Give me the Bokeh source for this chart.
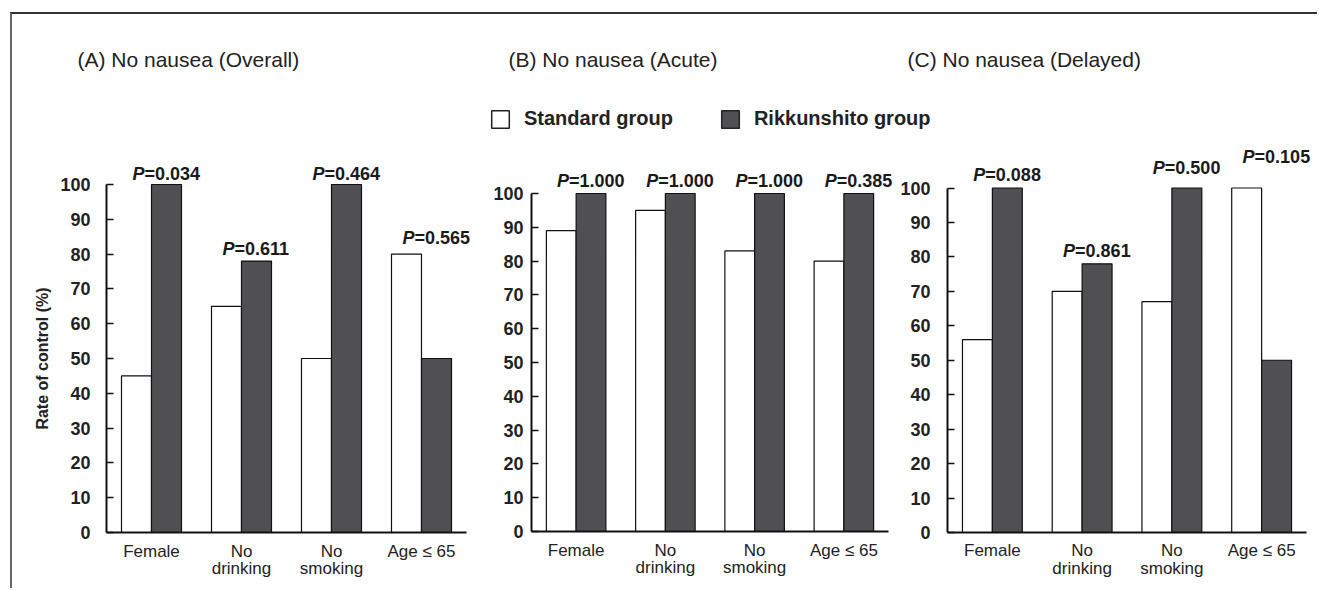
from bokeh.plotting import figure
from bokeh.models import (Range1d, FixedTicker, Label, Legend, LegendItem,
                          ColumnDataSource)
from bokeh.transform import dodge
from bokeh.layouts import row, column
from bokeh.embed import file_html
from bokeh.resources import INLINE
from bokeh.core.properties import value

# ---------------- data ----------------
categories = ["Female", "No\ndrinking", "No\nsmoking", "Age \u2264 65"]
titles = ["(A) No nausea (Overall)", "(B) No nausea (Acute)", "(C) No nausea (Delayed)"]
series_names = ["Standard group", "Rikkunshito group"]

standard_A = [45, 65, 50, 80]
rikkunshito_A = [100, 78, 100, 50]
pvalues_A = ["0.034", "0.611", "0.464", "0.565"]

standard_B = [89, 95, 83, 80]
rikkunshito_B = [100, 100, 100, 100]
pvalues_B = ["1.000", "1.000", "1.000", "0.385"]

standard_C = [56, 70, 67, 100]
rikkunshito_C = [100, 78, 100, 50]
pvalues_C = ["0.088", "0.861", "0.500", "0.105"]

y_ticks = [0, 10, 20, 30, 40, 50, 60, 70, 80, 90, 100]
y_axis_label = "Rate of control (%)"

# ---------------- style / layout ----------------
FONT = "Liberation Sans"
DARK = "#505052"
TXT = "#222222"
HEADER_H = 126
CHART_H = 448
xpos = [i + 0.5 for i in range(len(categories))]

panels = [
    dict(std=standard_A, rik=rikkunshito_A, pv=pvalues_A,
         width=463, xs=-1.0444, unit=90.0, ys=-16.09, ye=112.64, standoff=16,
         lift=[10, 12, 10, 16], ylabel=True),
    dict(std=standard_B, rik=rikkunshito_B, pv=pvalues_B,
         width=420, xs=-0.6275, unit=89.25, ys=-16.86, ye=115.68, standoff=8,
         lift=[13, 13, 13, 13], ylabel=False),
    dict(std=standard_C, rik=rikkunshito_C, pv=pvalues_C,
         width=422, xs=-0.5794, unit=89.75, ys=-16.26, ye=113.79, standoff=17,
         lift=[13, 13, 20, 31], ylabel=False),
]
TOTAL_W = sum(pd_["width"] for pd_ in panels)

# ---------------- header: titles + legend ----------------
hdr = figure(x_range=Range1d(0, TOTAL_W), y_range=Range1d(0, HEADER_H),
             width=TOTAL_W, height=HEADER_H, title=None, output_backend="svg",
             toolbar_location=None, min_border=0)
hdr.axis.visible = False
hdr.xgrid.grid_line_color = None
hdr.ygrid.grid_line_color = None
hdr.outline_line_color = None

title_pos = [(65, 81), (496, 81), (895, 81)]
for t, (tx, ty) in zip(titles, title_pos):
    hdr.add_layout(Label(x=tx, y=ty, text=t, text_font=FONT, text_font_size="21px",
                         text_baseline="middle", text_align="left", text_color=TXT))

# legend proxies (no visible mark: NaN placeholders)
leg_src = ColumnDataSource(dict(x=[float("nan")], top=[float("nan")]))
lr_std = hdr.vbar(x="x", top="top", width=1, source=leg_src, fill_color="white",
                  line_color="#222222", line_width=1.5)
lr_rik = hdr.vbar(x="x", top="top", width=1, source=leg_src, fill_color=DARK,
                  line_color="#222222", line_width=1.5)
leg = Legend(items=[LegendItem(label=series_names[0], renderers=[lr_std]),
                    LegendItem(label=series_names[1], renderers=[lr_rik])],
             orientation="horizontal", location=(477, 10),
             padding=0, margin=0, spacing=46, label_standoff=13,
             glyph_width=22, glyph_height=22,
             label_text_font=FONT, label_text_font_size="20px",
             label_text_font_style="bold", label_text_color=TXT,
             border_line_alpha=0, background_fill_alpha=0)
hdr.add_layout(leg)

# ---------------- charts ----------------
figs = []
for i, pd_ in enumerate(panels):
    src = ColumnDataSource(dict(
        xc=xpos,
        std=pd_["std"],
        rik=pd_["rik"],
        ptop=[max(a, b) for a, b in zip(pd_["std"], pd_["rik"])],
        pP=["P"] * len(categories),
        prest=["=" + v for v in pd_["pv"]],
        lift=[-v for v in pd_["lift"]],
    ))
    xs = pd_["xs"]
    xe = xs + pd_["width"] / pd_["unit"]
    p = figure(x_range=Range1d(xs, xe), y_range=Range1d(pd_["ys"], pd_["ye"]),
               width=pd_["width"], height=CHART_H, title=None,
               output_backend="svg", toolbar_location=None, min_border=0)
    p.outline_line_color = None
    p.xgrid.grid_line_color = None
    p.ygrid.grid_line_color = None

    p.vbar(x=dodge("xc", -1/6), top="std", width=1/3, source=src,
           fill_color="white", line_color="#111111", line_width=1.2)
    p.vbar(x=dodge("xc", 1/6), top="rik", width=1/3, source=src,
           fill_color=DARK, line_color="#111111", line_width=1.2)

    p.text(x=dodge("xc", 1/6), y="ptop", text="pP", source=src,
           x_offset=-22, y_offset="lift", text_align="right", text_baseline="middle",
           text_font=value(FONT), text_font_size="18px", text_font_style="bold italic",
           text_color="#1a1a1a")
    p.text(x=dodge("xc", 1/6), y="ptop", text="prest", source=src,
           x_offset=-22, y_offset="lift", text_align="left", text_baseline="middle",
           text_font=value(FONT), text_font_size="18px", text_font_style="bold",
           text_color="#1a1a1a")

    xa = p.xaxis[0]
    xa.fixed_location = 0
    xa.bounds = (0, len(categories))
    xa.ticker = FixedTicker(ticks=xpos)
    xa.major_label_overrides = {x: c for x, c in zip(xpos, categories)}
    xa.axis_line_width = 2
    xa.axis_line_color = "#111111"
    xa.major_tick_line_color = None
    xa.minor_tick_line_color = None
    xa.major_label_text_font = FONT
    xa.major_label_text_font_size = "17px"
    xa.major_label_text_line_height = 0.9
    xa.major_label_text_color = TXT
    xa.major_label_standoff = 3

    ya = p.yaxis[0]
    ya.fixed_location = 0
    ya.bounds = (0, 100)
    ya.ticker = FixedTicker(ticks=y_ticks)
    ya.axis_line_width = 2
    ya.axis_line_color = "#111111"
    ya.major_tick_in = 7
    ya.major_tick_out = 0
    ya.major_tick_line_width = 1.5
    ya.major_tick_line_color = "#111111"
    ya.minor_tick_line_color = None
    ya.major_label_text_font = FONT
    ya.major_label_text_font_size = "18px"
    ya.major_label_text_font_style = "bold"
    ya.major_label_text_color = TXT
    ya.major_label_standoff = pd_["standoff"]
    if pd_["ylabel"]:
        ya.axis_label = y_axis_label
        ya.axis_label_text_font = FONT
        ya.axis_label_text_font_size = "16px"
        ya.axis_label_text_font_style = "bold"
        ya.axis_label_text_color = TXT
        ya.axis_label_standoff = 6
    figs.append(p)

layout = column(hdr, row(*figs), margin=(12, 0, 0, 10),
                styles={"border-top": "2px solid #333333",
                        "border-left": "2px solid #666666"})

open("out.html", "w").write(file_html(layout, INLINE))
